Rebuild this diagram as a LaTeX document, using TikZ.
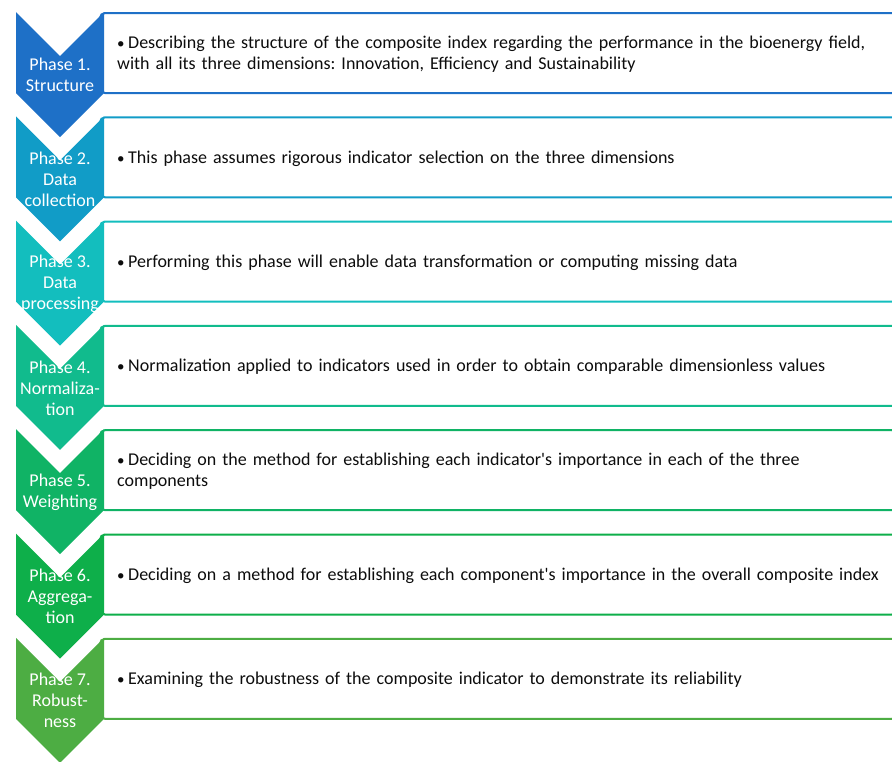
\documentclass[tikz,border=0pt]{standalone}
\usepackage{fontspec}
\setmainfont{Carlito}
\frenchspacing
\hyphenpenalty=10000
\exhyphenpenalty=10000

\definecolor{phaseA}{HTML}{1E70C7}
\definecolor{phaseB}{HTML}{119CC7}
\definecolor{phaseC}{HTML}{13BEBE}
\definecolor{phaseD}{HTML}{11BB8D}
\definecolor{phaseE}{HTML}{10B365}
\definecolor{phaseF}{HTML}{0EAF4A}
\definecolor{phaseG}{HTML}{4DAD43}
\definecolor{bodytext}{HTML}{0D0D0D}

% bullet with its hanging indent
\newcommand{\phasebullet}{\hyphenpenalty=10000\relax
  \rightskip=0pt plus 1fil\relax
  \hangindent=11pt\hangafter=1\noindent
  \makebox[11pt][l]{\fontsize{15}{15}\selectfont\textbullet}}

\begin{document}
\begin{tikzpicture}[x=1pt,y=-1pt,
    phaselabel/.style={text=white, align=center, inner sep=0pt,
      font=\fontsize{18}{21}\selectfont},
    phasetext/.style={text=bodytext, anchor=west, text width=768pt, align=left,
      inner sep=0pt, font=\fontsize{18}{21}\selectfont},
    phasebox/.style={line width=2pt, rounded corners=5pt, fill=white}]
  \useasboundingbox (0,0) rectangle (892,761);
  \foreach \i/\col/\lbl/\desc in {
    1/phaseA/{Phase 1.\\Structure}/{Describing the structure of the composite index regarding the performance in the bioenergy field, with all its three dimensions: Innovation, Efficiency and Sustainability},
    2/phaseB/{Phase 2.\\Data\\collection}/{This phase assumes rigorous indicator selection on the three dimensions},
    3/phaseC/{Phase 3.\\Data\\processing}/{Performing this phase will enable data transformation or computing missing data},
    4/phaseD/{Phase 4.\\Normaliza-\\tion}/{Normalization applied to indicators used in order to obtain comparable dimensionless values},
    5/phaseE/{Phase 5.\\Weighting}/{Deciding on the method for establishing each indicator\textquotesingle s importance in each of the three components},
    6/phaseF/{Phase 6.\\Aggrega-\\tion}/{Deciding on a method for establishing each component\textquotesingle s importance in the overall composite index},
    7/phaseG/{Phase 7.\\Robust-\\ness}/{Examining the robustness of the composite indicator to demonstrate its reliability}} {
    \pgfmathsetmacro\t{12+104.3*(\i-1)}
    % text box, its left side hidden under the chevron
    \draw[phasebox, draw=\col] (100,\t+1) rectangle (897,\t+81);
    % chevron
    \fill[\col] (16,\t) -- (60,\t+44) -- (104,\t) -- (104,\t+81)
      -- (60,\t+125) -- (16,\t+81) -- cycle;
    \node[phaselabel] (ph\i) at (60,\t+63) {\lbl};
    \node[phasetext] (desc\i) at (117,\t+42) {\phasebullet\desc};
  }
\end{tikzpicture}
\end{document}
